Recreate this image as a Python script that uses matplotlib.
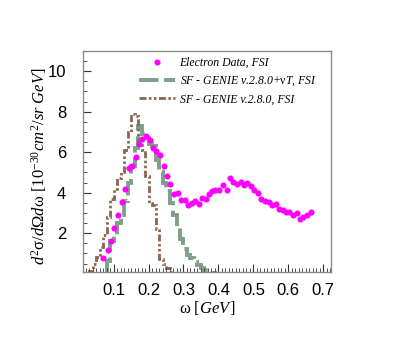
import matplotlib
matplotlib.use("Agg")
import matplotlib.pyplot as plt
from matplotlib.ticker import MultipleLocator, FixedLocator
from matplotlib.lines import Line2D

plt.rcParams['mathtext.fontset'] = 'custom'
plt.rcParams['mathtext.rm'] = 'Liberation Serif'
plt.rcParams['mathtext.it'] = 'Liberation Serif:italic'
plt.rcParams['mathtext.bf'] = 'Liberation Serif:bold'

# Electron data (omega in GeV, cross section)
data_w = [0.071, 0.083, 0.093, 0.102, 0.113, 0.123, 0.133, 0.144, 0.153, 0.163,
          0.173, 0.182, 0.193, 0.203, 0.213, 0.222, 0.233, 0.243, 0.253, 0.262,
          0.273, 0.285, 0.294, 0.304, 0.313, 0.323, 0.334, 0.344, 0.353, 0.363,
          0.373, 0.382, 0.391, 0.403, 0.413, 0.424, 0.433, 0.443, 0.453, 0.464,
          0.473, 0.483, 0.493, 0.502, 0.513, 0.523, 0.533, 0.544, 0.553, 0.565,
          0.574, 0.584, 0.593, 0.603, 0.614, 0.624, 0.633, 0.643, 0.654, 0.664]
data_xs = [0.76, 1.17, 1.63, 2.23, 2.89, 3.52, 4.18, 5.20, 5.33, 5.76,
           6.39, 6.65, 6.82, 6.62, 6.19, 6.06, 5.86, 5.33, 4.84, 4.44,
           3.95, 3.98, 3.65, 3.65, 3.39, 3.48, 3.58, 3.45, 3.75, 3.71,
           3.91, 4.08, 4.14, 4.11, 4.38, 4.14, 4.70, 4.54, 4.41, 4.54,
           4.38, 4.48, 4.31, 4.14, 3.98, 3.68, 3.58, 3.55, 3.39, 3.42,
           3.19, 3.12, 3.05, 3.02, 2.89, 2.99, 2.72, 2.82, 2.92, 3.02]

# SF - GENIE v.2.8.0+vT, FSI (histogram)
green_edges = [0.08, 0.09, 0.10, 0.11, 0.12, 0.13, 0.14, 0.15, 0.16, 0.17,
               0.18, 0.19, 0.20, 0.21, 0.22, 0.23, 0.24, 0.25, 0.26, 0.27,
               0.28, 0.29, 0.30, 0.31, 0.32, 0.33, 0.34, 0.35, 0.36, 0.37,
               0.38, 0.39]
green_vals = [0.6, 1.6, 1.9, 2.5, 2.9, 3.6, 4.5, 5.3, 6.2, 7.3,
              6.9, 6.7, 6.4, 6.3, 5.6, 5.0, 4.5, 4.1, 3.5, 2.9,
              2.3, 1.7, 1.2, 0.9, 0.75, 0.55, 0.45, 0.3, 0.2, 0.1,
              0.04]

# SF - GENIE v.2.8.0, FSI (histogram)
brown_edges = [0.03, 0.04, 0.05, 0.06, 0.07, 0.08, 0.09, 0.10, 0.11, 0.12,
               0.13, 0.14, 0.15, 0.16, 0.17, 0.18, 0.19, 0.20, 0.21, 0.22,
               0.23, 0.24, 0.25, 0.26, 0.27, 0.28]
brown_vals = [0.15, 0.5, 0.8, 1.3, 1.9, 2.8, 3.7, 4.2, 4.7, 5.0,
              6.1, 7.0, 7.9, 7.8, 6.6, 6.1, 4.8, 3.5, 3.4, 2.2,
              0.7, 0.5, 0.3, 0.1, 0.05]

labels = ["Electron Data, FSI",
          r"SF - GENIE v.2.8.0+$\mathrm{\nu}$T, FSI",
          "SF - GENIE v.2.8.0, FSI"]
xticks = [0.1, 0.2, 0.3, 0.4, 0.5, 0.6, 0.7]
yticks = [2, 4, 6, 8, 10]

green_c = '#7f9f89'
brown_c = '#8a6552'
mag_c = '#ff00ff'
green_ls = (0, (5, 1.4))
brown_ls = (0, (2.5, 0.9, 0.9, 0.9, 0.9, 0.9))

fig = plt.figure(figsize=(4.15, 3.41), dpi=100)
ax = fig.add_axes([83/415, 1-272/341, (331-83)/415, (272-51)/341])

ax.stairs(green_vals, green_edges, baseline=0, color=green_c, lw=2.8,
          linestyle=green_ls)
ax.stairs(brown_vals, brown_edges, baseline=0, color=brown_c, lw=2.0,
          linestyle=brown_ls)
hd, = ax.plot(data_w, data_xs, 'o', color=mag_c, ms=4.4, mec='none')

lg = Line2D([], [], color=green_c, lw=2.8, linestyle=green_ls)
lb = Line2D([], [], color=brown_c, lw=2.0, linestyle=brown_ls)
leg = ax.legend([hd, lg, lb], labels, loc='upper left',
                bbox_to_anchor=(0.225, 0.972), frameon=False,
                prop={'family': 'Liberation Serif', 'style': 'italic', 'size': 8.5},
                handlelength=3.1, handletextpad=0.35, labelspacing=0.45,
                borderpad=0, borderaxespad=0)

ax.set_xlim(0.0125, 0.722)
ax.set_ylim(0.08, 11.0)
ax.xaxis.set_major_locator(FixedLocator(xticks))
ax.xaxis.set_minor_locator(MultipleLocator(0.01))
ax.yaxis.set_major_locator(FixedLocator(yticks))
ax.yaxis.set_minor_locator(MultipleLocator(0.5))
ax.tick_params(axis='both', which='both', direction='in', top=False, right=False,
               color='#333333')
ax.tick_params(axis='both', which='major', length=6, width=0.8, labelsize=12)
ax.tick_params(axis='both', which='minor', length=3, width=0.6)
ax.tick_params(axis='x', which='major', pad=8)
ax.tick_params(axis='y', which='major', pad=12)
for lab in ax.get_xticklabels() + ax.get_yticklabels():
    lab.set_fontfamily('Liberation Sans')
for s in ax.spines.values():
    s.set_color('#8a8a8a')
    s.set_linewidth(1.0)

fig.text(207/415, 1-308/341, r'$\mathrm{\omega}\ [GeV]$', ha='center', va='center',
         fontsize=12)
fig.text(39/415, 1-166/341,
         r'$d^{2}\mathrm{\sigma}/d\mathrm{\Omega}d\mathrm{\omega}\ [10^{-30}cm^{2}/sr\ GeV]$',
         rotation=90, ha='center', va='center', fontsize=12)

fig.savefig('out.png', dpi=100)
